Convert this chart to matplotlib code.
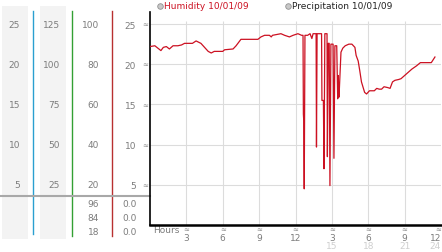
import matplotlib
matplotlib.use('Agg')
import matplotlib.pyplot as plt
import matplotlib.transforms as mtransforms

# humidity readings 10/01/09 (hours since midnight, %/4 scale as drawn)
hours = [0.0, 0.4, 0.65, 0.9, 1.1, 1.35, 1.6, 1.9, 2.3, 2.6, 2.85, 3.5, 3.8, 4.2,
         4.5, 4.8, 5.05, 5.3, 6.0, 6.15, 6.85, 7.1, 7.5, 8.9, 9.15, 9.45, 9.85,
         10.0, 10.1, 10.8, 11.1, 11.5, 11.8, 12.2, 12.5, 12.62, 12.65, 12.68,
         12.72, 12.78, 13.0, 13.2, 13.35, 13.45, 13.7, 13.73, 13.78, 14.15,
         14.18, 14.3, 14.35, 14.42, 14.6, 14.63, 14.7, 14.78, 14.84, 14.92,
         15.1, 15.17, 15.25, 15.4, 15.48, 15.52, 15.58, 15.62, 15.75, 15.9,
         16.1, 16.4, 16.65, 16.9, 17.0, 17.17, 17.3, 17.44, 17.7, 17.86, 18.1,
         18.5, 18.7, 18.9, 19.1, 19.3, 19.6, 19.8, 20.0, 20.2, 20.5, 20.7,
         21.0, 21.3, 21.6, 21.98, 22.3, 23.2, 23.5]
humidity = [22.2, 22.3, 22.0, 21.7, 22.1, 22.2, 21.9, 22.3, 22.3, 22.4, 22.6,
            22.6, 22.9, 22.6, 22.1, 21.6, 21.4, 21.6, 21.6, 21.8, 21.9, 22.3,
            23.1, 23.1, 23.4, 23.6, 23.6, 23.4, 23.6, 23.8, 23.6, 23.4, 23.6,
            23.8, 23.6, 23.6, 13.8, 13.0, 4.5, 23.6, 23.6, 23.8, 23.2, 23.8,
            23.8, 9.7, 23.8, 23.8, 15.5, 15.5, 7.0, 23.8, 23.8, 8.5, 22.6,
            22.6, 4.9, 22.5, 22.5, 8.3, 22.3, 22.3, 15.7, 18.6, 15.9, 17.0,
            21.5, 22.0, 22.3, 22.5, 22.5, 22.1, 21.1, 20.4, 19.2, 17.8, 16.5,
            16.3, 16.7, 16.7, 17.0, 16.9, 16.9, 17.2, 17.1, 17.0, 17.8, 18.0,
            18.1, 18.2, 18.6, 19.0, 19.4, 19.8, 20.2, 20.2, 20.9]

hum_ticks = [5, 10, 15, 20, 25]
scale_a = [5, 10, 15, 20, 25]
scale_b = [25, 50, 75, 100, 125]
scale_c = [20, 40, 60, 80, 100]
stat_c = ['96', '84', '18']
stat_d = ['0.0', '0.0', '0.0']
hour_ticks = [3, 6, 9, 12, 15, 18, 21, 24]
hour_labels = ['3', '6', '9', '12', '3', '6', '9', '12']
hour_labels2 = ['', '', '', '', '15', '18', '21', '24']

grey = '#7c7c7c'
red = '#cc1122'
fs = 6.5

fig = plt.figure(figsize=(4.42, 2.53), dpi=100)

# background layer in pixel coordinates for the side panel
bg = fig.add_axes([0, 0, 1, 1], zorder=-1)
bg.set_xlim(0, 442)
bg.set_ylim(253, 0)
bg.axis('off')

ax = fig.add_axes([150 / 442, 27 / 253, 291 / 442, 213 / 253])
ax.set_xlim(0, 24)
ax.set_ylim(0, 26.5)
ax.patch.set_alpha(0)

for s in ['top', 'right']:
    ax.spines[s].set_visible(False)
ax.spines['left'].set_linewidth(1.2)
ax.spines['bottom'].set_linewidth(1.8)

ax.hlines(hum_ticks, 0, 24, color='#dcdcdc', lw=0.8, zorder=1)
ax.vlines(hour_ticks, 0, 25.4, color='#dcdcdc', lw=0.8, zorder=1)

ax.plot(hours, humidity, color=red, lw=0.9, zorder=3)

ax.set_yticks(hum_ticks)
ax.set_yticklabels([str(v) for v in hum_ticks])
ax.tick_params(axis='y', length=0, pad=10, labelsize=fs, labelcolor=grey)
ax.set_xticks(hour_ticks)
ax.set_xticklabels(hour_labels)
ax.tick_params(axis='x', length=0, pad=6, labelsize=fs, labelcolor=grey)
ax.get_xticklabels()[-1].set_horizontalalignment('right')

# small tick glyphs
ymark = mtransforms.blended_transform_factory(bg.transData, ax.transData)
for v in hum_ticks:
    ax.text(145, v, '≈', transform=ymark, fontsize=5, color='#8a8a8a',
            ha='center', va='center')
xmark = mtransforms.blended_transform_factory(ax.transData, bg.transData)
for i, (h, lab2) in enumerate(zip(hour_ticks, hour_labels2)):
    ha = 'right' if i == len(hour_ticks) - 1 else 'center'
    ax.text(h, 230, '≈', transform=xmark, fontsize=5, color='#8a8a8a',
            ha=ha, va='center', clip_on=False)
    if lab2:
        ax.text(h, 246.5, lab2, transform=xmark, fontsize=fs, color='#cfcfcf',
                ha=ha, va='center', clip_on=False)
bg.text(153, 230.5, 'Hours', fontsize=fs, color=grey, ha='left', va='center')

# side panel: scale columns
bg.add_patch(plt.Rectangle((2, 7), 26, 233, color='#f3f3f3', lw=0))
bg.add_patch(plt.Rectangle((40, 7), 26, 233, color='#f3f3f3', lw=0))
bg.plot([33, 33], [12, 235], color='#2a9fd0', lw=1)
bg.plot([72, 72], [12, 237], color='#33a033', lw=1)
bg.plot([111.5, 111.5], [12, 237], color='#b83030', lw=1)
bg.plot([0, 150], [197, 197], color='#a8a8a8', lw=1.5)

for a, b, c, v in zip(scale_a, scale_b, scale_c, hum_ticks):
    bg.text(20, v, str(a), transform=ymark, fontsize=fs, color=grey,
            ha='right', va='center')
    bg.text(60, v, str(b), transform=ymark, fontsize=fs, color=grey,
            ha='right', va='center')
    bg.text(99, v, str(c), transform=ymark, fontsize=fs, color=grey,
            ha='right', va='center')

for yy, c, d in zip([205, 218.5, 232.3], stat_c, stat_d):
    bg.text(99, yy, c, fontsize=fs, color=grey, ha='right', va='center')
    bg.text(137, yy, d, fontsize=fs, color=grey, ha='right', va='center')

# legend
bg.plot([160], [6.7], 'o', ms=4, mfc='#c8c8c8', mec='#909090', mew=0.6)
bg.text(163.5, 6.7, 'Humidity 10/01/09', fontsize=fs, color=red,
        ha='left', va='center')
bg.plot([288], [6.7], 'o', ms=4, mfc='#c8c8c8', mec='#909090', mew=0.6)
bg.text(291.5, 6.7, 'Precipitation 10/01/09', fontsize=fs, color='#222222',
        ha='left', va='center')

fig.savefig('out.png', dpi=100)
